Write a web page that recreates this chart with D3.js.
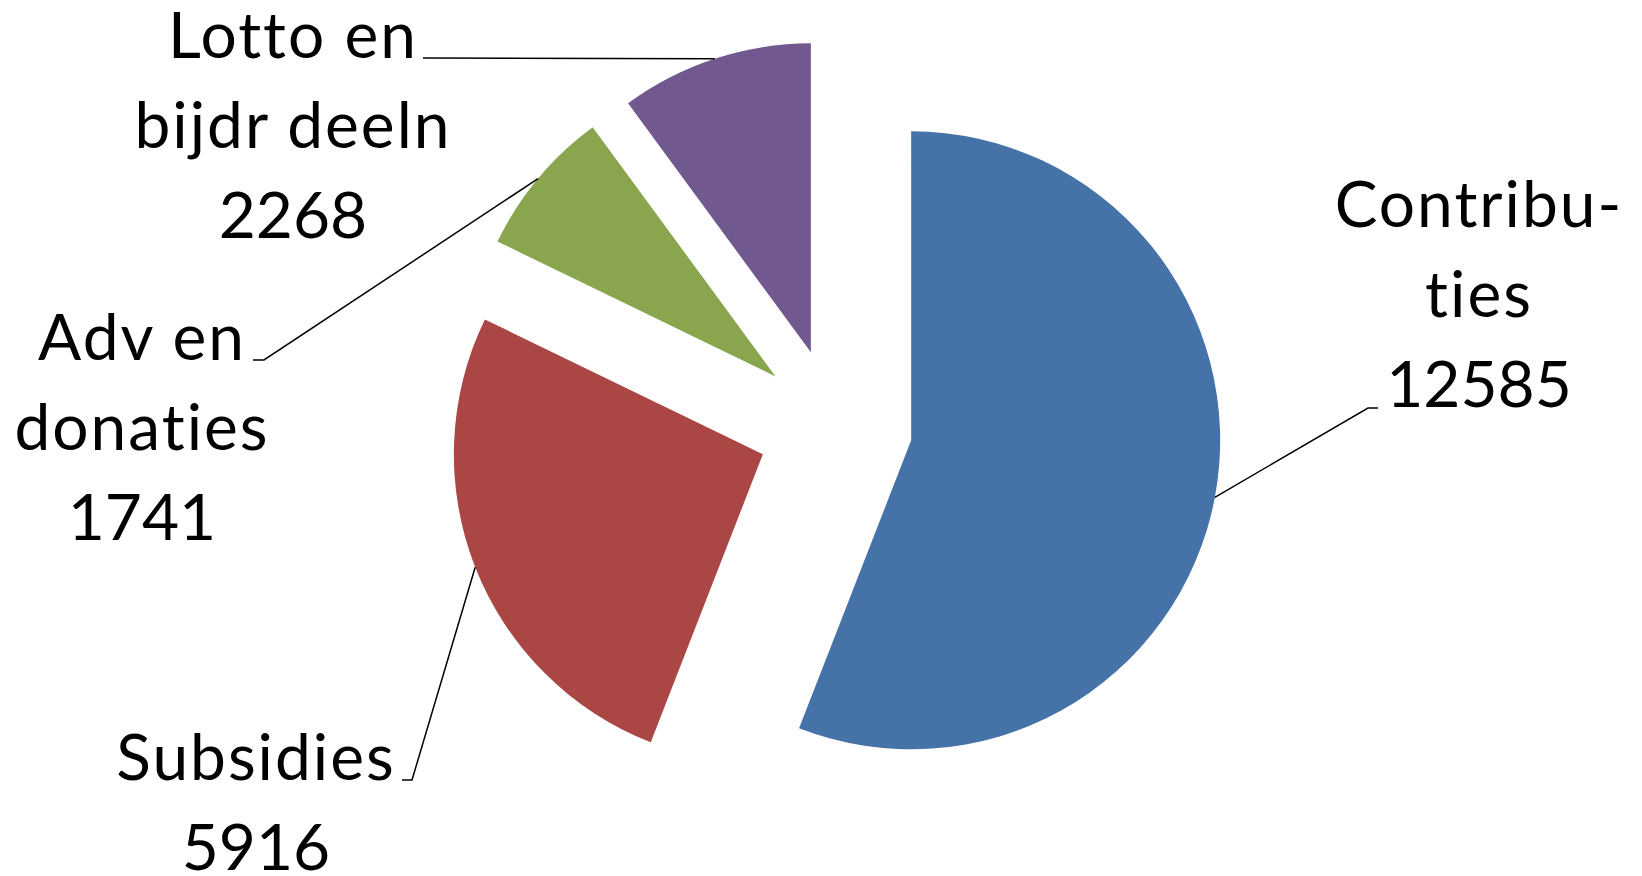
<!DOCTYPE html>
<html>
<head>
<meta charset="UTF-8">
<script src="https://d3js.org/d3.v7.min.js"></script>
<style>
  html, body { margin: 0; padding: 0; background: #fff; }
  text { font-family: Lato, "Open Sans", sans-serif; fill: #000;
         font-variant-ligatures: none; font-feature-settings: "liga" 0, "clig" 0; }
</style>
</head>
<body>
<div id="chart"></div>
<script>
    // data
    const categories = ["Contributies", "Subsidies", "Adv en donaties", "Lotto en bijdr deeln"];
    const values = [12585, 5916, 1741, 2268];
    const labelLines = [["Contribu-", "ties"], ["Subsidies"], ["Adv en", "donaties"], ["Lotto en", "bijdr deeln"]];
    const colors = ["#4572A7", "#AA4643", "#89A54E", "#71588F"];

    const width = 1642, height = 876;
    const cx = 835, cy = 426, radius = 309, explode = 77.5;
    const fontSize = 64, lineHeight = 90;

    // where each label block sits (centre x, first baseline) and the end of its leader
    const labelLayout = [
        {x: 1479, y: 227, lineEnd: [1378, 408], elbow: [1368, 408]},
        {x: 256, y: 780, lineEnd: [402, 780], elbow: [412, 780]},
        {x: 142, y: 360, lineEnd: [253, 360], elbow: [264, 360]},
        {x: 293, y: 58, lineEnd: [423, 58], elbow: [430, 58]}
    ];

    const data = categories.map((c, i) => ({name: c, value: values[i], lines: labelLines[i], color: colors[i]}));

    const svg = d3.select("#chart")
        .append("svg")
        .attr("width", width)
        .attr("height", height);

    const g = svg.append("g")
        .attr("transform", `translate(${cx},${cy})`);

    const pie = d3.pie()
        .sort(null)
        .value(d => d.value);

    const arc = d3.arc()
        .innerRadius(0)
        .outerRadius(radius);

    const arcs = pie(data);

    function offset(d, r) {
        const a = (d.startAngle + d.endAngle) / 2;
        return [Math.sin(a) * r, -Math.cos(a) * r];
    }

    // slices, each pulled out along its middle angle
    g.selectAll("path.slice")
        .data(arcs)
        .join("path")
        .attr("class", "slice")
        .attr("d", arc)
        .attr("fill", d => d.data.color)
        .attr("transform", d => {
            const [dx, dy] = offset(d, explode);
            return `translate(${dx},${dy})`;
        });

    // leader lines from the middle of the outer arc to the label
    svg.selectAll("polyline.leader")
        .data(arcs)
        .join("polyline")
        .attr("class", "leader")
        .attr("fill", "none")
        .attr("stroke", "#000")
        .attr("stroke-width", 1.5)
        .attr("points", (d, i) => {
            const [ex, ey] = offset(d, explode);
            const [ox, oy] = offset(d, radius);
            const l = labelLayout[i];
            const p0 = [cx + ex + ox, cy + ey + oy];
            return [p0, l.elbow, l.lineEnd].map(p => p.join(",")).join(" ");
        });

    // labels
    const labels = svg.selectAll("text.label")
        .data(arcs)
        .join("text")
        .attr("class", "label")
        .attr("text-anchor", "middle")
        .style("font-size", fontSize + "px");

    labels.each(function(d, i) {
        const l = labelLayout[i];
        const t = d3.select(this);
        d.data.lines.forEach((s, k) => {
            t.append("tspan")
                .attr("x", l.x)
                .attr("y", l.y + k * lineHeight)
                .style("letter-spacing", "2px")
                .text(s);
        });
        t.append("tspan")
            .attr("x", l.x)
            .attr("y", l.y + d.data.lines.length * lineHeight)
            .text(d.data.value);
    });
</script>
</body>
</html>
